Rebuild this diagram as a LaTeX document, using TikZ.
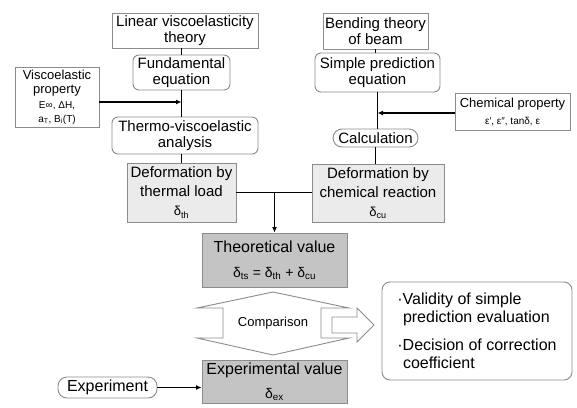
\documentclass[tikz,border=0pt]{standalone}
\usepackage{fontspec}
\setmainfont{Liberation Sans}
\usetikzlibrary{arrows.meta}
\definecolor{bordergray}{HTML}{8C8C8C}
\definecolor{lightfill}{HTML}{EBEBEB}
\definecolor{darkfill}{HTML}{C4C4C4}
\begin{document}
\begin{tikzpicture}[x=1pt,y=-1pt,
  box/.style={draw=bordergray, line width=0.9pt, inner sep=0pt, align=center, font=\fontsize{15}{16}\selectfont},
  rbox/.style={box, rounded corners=6pt},
  pill/.style={box, rounded corners=9pt},
  lgray/.style={fill=lightfill},
  dgray/.style={fill=darkfill},
  conn/.style={line width=1.2pt, black},
  tip/.style={conn, -{Latex[length=5.5pt,width=5pt]}},
  outline/.style={draw=bordergray, line width=0.9pt, fill=white}]
\path[fill=white] (0,0) rectangle (577,407);
\useasboundingbox (0,0) rectangle (577,407);

% left column
\node[box, minimum width=146pt, minimum height=35pt] (lvt) at (185,30.5) {Linear viscoelasticity\\theory};
\node[rbox, minimum width=97pt, minimum height=35pt] (feq) at (181.5,72.5) {Fundamental\\equation};
\node[box, minimum width=84pt, minimum height=60pt, font=\fontsize{13}{14}\selectfont] (vep) at (57,97) {Viscoelastic\\property\\[1pt]{\fontsize{10}{11}\selectfont E∞, ΔH,}\\{\fontsize{10}{11}\selectfont a\textsubscript{T}, B\textsubscript{i}(T)}};
\node[rbox, minimum width=146pt, minimum height=37pt] (tva) at (185,135.5) {Thermo-viscoelastic\\analysis};
\node[box, lgray, minimum width=109pt, minimum height=59pt, font=\fontsize{15}{19}\selectfont] (dth) at (181.5,192.5) {Deformation by\\thermal load\\{\fontsize{13}{14}\selectfont δ\textsubscript{th}}};

% right column
\node[box, minimum width=105pt, minimum height=36pt] (btb) at (375.5,31) {Bending theory\\of beam};
\node[rbox, minimum width=125pt, minimum height=39pt] (spe) at (377.5,72.5) {Simple prediction\\equation};
\node[box, minimum width=115pt, minimum height=37pt, font=\fontsize{13}{17}\selectfont] (chp) at (512.5,111.5) {Chemical property\\{\fontsize{10}{12}\selectfont ε′, ε″, tanδ, ε}};
\node[pill, minimum width=85pt, minimum height=18pt] (calc) at (375.5,138) {Calculation};
\node[box, lgray, minimum width=132pt, minimum height=58pt, font=\fontsize{15}{19}\selectfont] (dcr) at (378,193) {Deformation by\\chemical reaction\\{\fontsize{13}{14}\selectfont δ\textsubscript{cu}}};

% centre
\node[box, dgray, minimum width=145pt, minimum height=54pt, font=\fontsize{16}{25}\selectfont] (thv) at (274.5,260) {Theoretical value\\{\fontsize{14}{15}\selectfont δ\textsubscript{ts} = δ\textsubscript{th} + δ\textsubscript{cu}}};
\draw[outline] (273,292) -- (197,308) -- (223,308) -- (223,338) -- (197,338) -- (273,355) -- (349,338) -- (321,338) -- (321,308) -- (349,308) -- cycle;
\node[font=\fontsize{13}{14}\selectfont] (cmp) at (273,323) {Comparison};
\draw[outline] (332,317) -- (357,317) -- (357,308) -- (374,325) -- (357,342) -- (357,333) -- (332,333) -- cycle;
\node[box, dgray, minimum width=145pt, minimum height=43pt, font=\fontsize{16}{24}\selectfont] (exv) at (274.5,381.5) {Experimental value\\{\fontsize{14}{15}\selectfont δ\textsubscript{ex}}};
\node[pill, minimum width=99pt, minimum height=21pt, font=\fontsize{16}{18}\selectfont] (exp) at (107.5,387.5) {Experiment};
\node[box, rounded corners=8pt, minimum width=190pt, minimum height=98pt, align=left, font=\fontsize{16}{18}\selectfont] (res) at (477,331) {·Validity of simple\\\hspace*{0.35em}prediction evaluation\\[10pt]·Decision of correction\\\hspace*{0.35em}coefficient};

% connectors
\coordinate (j1) at (181.5,102);
\coordinate (j2) at (377.5,113);
\coordinate (j3) at (thv.north |- dth.east);
\draw[conn] (feq.north) -- (feq.north |- lvt.south);
\draw[conn] (feq.south) -- (feq.south |- tva.north);
\draw[tip] (vep.east |- j1) -- (j1);
\draw[conn] (tva.south -| dth.north) -- (dth.north);
\draw[conn] (spe.north -| btb.south) -- (btb.south);
\draw[conn] (spe.south) -- (spe.south |- calc.north);
\draw[tip] (chp.west |- j2) -- (j2);
\draw[conn] (calc.south) -- (calc.south |- dcr.north);
\draw[conn] (dth.east) -- (dth.east -| dcr.west);
\draw[tip] (j3) -- (thv.north);
\draw[tip] (exp.east) -- (exp.east -| exv.west);
\end{tikzpicture}
\end{document}
